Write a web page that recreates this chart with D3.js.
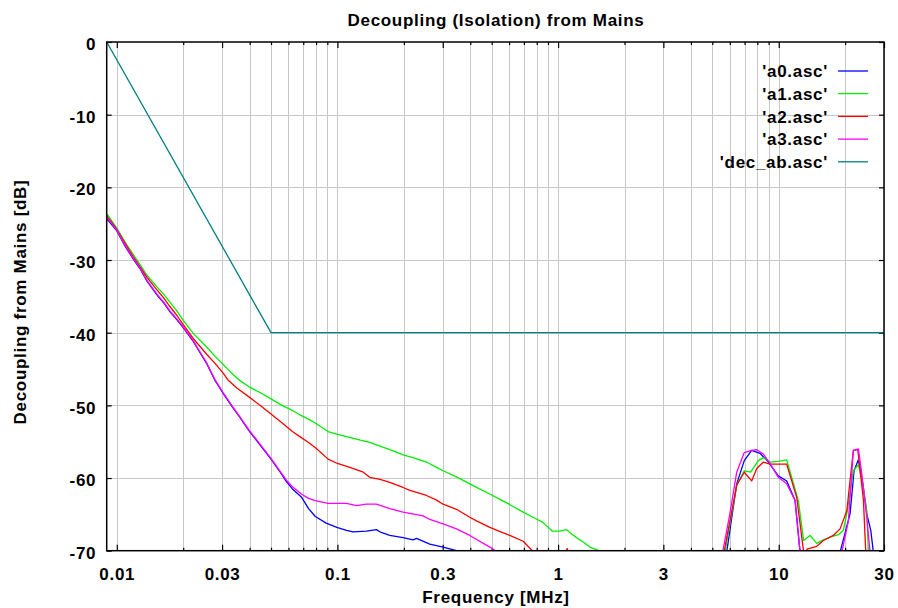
<!DOCTYPE html>
<html>
<head>
<meta charset="utf-8">
<script src="https://cdn.jsdelivr.net/npm/d3@7"></script>
<style>
  html, body { margin: 0; padding: 0; background: #fff; }
  svg text { font-family: "Liberation Sans", Arial, sans-serif; font-weight: bold; font-size: 17px; letter-spacing: 0.7px; fill: #000; }
</style>
</head>
<body>
<svg id="chart" width="898" height="608"></svg>
<script>
// ---- data ----
const xTickValues = [0.01, 0.03, 0.1, 0.3, 1, 3, 10, 30];
const xTickLabels = ["0.01", "0.03", "0.1", "0.3", "1", "3", "10", "30"];
const yTickValues = [0, -10, -20, -30, -40, -50, -60, -70];
const seriesNames = ["'a0.asc'", "'a1.asc'", "'a2.asc'", "'a3.asc'", "'dec_ab.asc'"];
const seriesColors = ["#0000ff", "#00ee00", "#ff0000", "#ff00ff", "#008080"];

// [frequency MHz, dB]
const a0 = [[0.009,-24.3],[0.01,-26.0],[0.011,-28.3],[0.0119,-29.9],[0.0128,-31.3],[0.0137,-32.9],[0.0152,-34.8],[0.0164,-36.0],[0.0174,-37.1],[0.0187,-38.2],[0.020,-39.3],[0.0222,-41.2],[0.024,-42.9],[0.0256,-44.3],[0.0279,-46.6],[0.0304,-48.4],[0.033,-50.0],[0.036,-51.6],[0.040,-53.6],[0.045,-55.6],[0.050,-57.4],[0.0545,-59.0],[0.0587,-60.5],[0.0625,-61.5],[0.0686,-62.6],[0.074,-64.2],[0.0794,-65.3],[0.0889,-66.2],[0.0994,-66.8],[0.11,-67.2],[0.1177,-67.4],[0.1353,-67.3],[0.1503,-67.1],[0.1556,-67.4],[0.1727,-67.9],[0.1984,-68.2],[0.2203,-68.5],[0.2282,-68.3],[0.2622,-69.1],[0.3012,-69.5],[0.3465,-70.0],[0.40,-71.2],[0.5,-72.5],[1,-74],[2,-76],[4,-76],[5.3,-74],[5.81,-70.2],[6.45,-60.8],[6.98,-57.6],[7.54,-56.2],[8.23,-56.6],[8.97,-57.8],[9.96,-59.7],[10.87,-60.4],[11.86,-63.1],[12.49,-70.2],[13.2,-75],[16,-77],[18.5,-74],[18.97,-70.2],[21.06,-64.9],[21.95,-59.0],[22.96,-57.5],[24.04,-60.8],[25.06,-64.9],[26.13,-67.2],[26.85,-70.2],[28,-74],[30,-76]];
const a1 = [[0.009,-23.6],[0.01,-25.6],[0.0111,-27.9],[0.0119,-29.3],[0.0128,-30.7],[0.0137,-32.1],[0.0152,-33.7],[0.0164,-34.8],[0.0174,-35.8],[0.0187,-37.0],[0.020,-38.3],[0.0222,-40.1],[0.0256,-42.0],[0.028,-43.3],[0.0304,-44.4],[0.033,-45.5],[0.0362,-46.6],[0.040,-47.5],[0.045,-48.3],[0.050,-49.1],[0.056,-50.0],[0.0625,-50.7],[0.0675,-51.3],[0.074,-51.9],[0.08,-52.5],[0.0907,-53.6],[0.1,-54.0],[0.1137,-54.4],[0.127,-54.8],[0.1402,-55.1],[0.156,-55.6],[0.1727,-56.1],[0.1984,-56.8],[0.22,-57.2],[0.2532,-57.8],[0.28,-58.5],[0.3012,-59.0],[0.35,-59.9],[0.398,-60.8],[0.44,-61.5],[0.4906,-62.2],[0.55,-63.0],[0.6,-63.6],[0.6946,-64.7],[0.77,-65.4],[0.853,-66.1],[0.94,-67.3],[1.019,-67.3],[1.093,-67.1],[1.15,-67.7],[1.213,-68.2],[1.3,-68.8],[1.394,-69.5],[1.558,-70.1],[1.7,-71.5],[2.5,-74],[4,-76],[5.3,-73],[5.705,-70.2],[6.45,-61.0],[6.98,-59.0],[7.46,-59.2],[8.08,-57.6],[8.52,-57.2],[9.13,-57.8],[9.96,-57.7],[10.87,-57.5],[12.27,-63.1],[12.97,-68.6],[13.87,-67.9],[14.87,-69.0],[15.93,-68.5],[17.2,-68.1],[18.63,-67.8],[19.63,-67.2],[20.35,-64.9],[21.79,-59.0],[22.96,-58.2],[24.19,-61.3],[25.06,-64.5],[25.49,-70.2],[26.5,-75],[30,-77]];
const a2 = [[0.009,-23.9],[0.01,-25.8],[0.0111,-28.1],[0.0119,-29.6],[0.0128,-31.0],[0.0137,-32.4],[0.0152,-34.1],[0.0164,-35.3],[0.0174,-36.4],[0.0187,-37.6],[0.020,-38.9],[0.0222,-40.8],[0.024,-42.0],[0.0256,-43.0],[0.028,-44.3],[0.0304,-45.6],[0.0319,-46.5],[0.035,-47.6],[0.040,-48.9],[0.045,-50.1],[0.050,-51.2],[0.056,-52.4],[0.0625,-53.6],[0.0675,-54.3],[0.074,-55.1],[0.08,-55.9],[0.0907,-57.4],[0.1,-58.0],[0.113,-58.5],[0.131,-59.2],[0.140,-59.9],[0.156,-60.2],[0.1727,-60.6],[0.1984,-61.3],[0.213,-61.7],[0.2532,-62.4],[0.28,-63.0],[0.3012,-63.6],[0.3465,-64.3],[0.398,-65.4],[0.427,-65.9],[0.4906,-66.8],[0.55,-67.4],[0.6045,-67.9],[0.6946,-68.7],[0.77,-70.1],[0.85,-71.5],[0.95,-72.5],[1.04,-71.2],[1.1,-69.7],[1.15,-71.2],[1.3,-74],[2.5,-76],[4,-76],[5.2,-73],[5.65,-70.2],[6.45,-61.0],[6.98,-59.2],[7.54,-60.4],[7.95,-58.7],[8.52,-57.8],[9.13,-58.1],[9.96,-58.1],[10.87,-58.1],[12.07,-62.7],[12.97,-70.2],[13.2,-71],[13.44,-69.8],[14.87,-69.4],[15.93,-68.6],[17.68,-67.9],[18.97,-67.0],[20.35,-64.5],[21.79,-56.2],[22.82,-56.1],[24.2,-63],[24.8,-70.2],[25.5,-75],[30,-77]];
const a3 = [[0.009,-24.1],[0.01,-25.9],[0.011,-28.2],[0.0119,-29.8],[0.0128,-31.2],[0.0137,-32.8],[0.0152,-34.7],[0.0164,-35.9],[0.0174,-37.0],[0.0187,-38.1],[0.020,-39.2],[0.0222,-41.1],[0.024,-42.8],[0.0256,-44.2],[0.0279,-46.5],[0.0304,-48.3],[0.033,-49.9],[0.036,-51.5],[0.040,-53.5],[0.045,-55.5],[0.050,-57.3],[0.0545,-58.9],[0.0587,-60.3],[0.0625,-61.2],[0.0686,-62.2],[0.074,-62.8],[0.0794,-63.1],[0.0907,-63.5],[0.1,-63.5],[0.11,-63.5],[0.122,-63.8],[0.135,-63.6],[0.1503,-63.6],[0.1727,-64.2],[0.1984,-64.7],[0.2444,-65.2],[0.2622,-65.7],[0.3012,-66.3],[0.3465,-67.0],[0.398,-67.9],[0.4906,-69.5],[0.545,-70.4],[0.6,-71.5],[1,-74],[2,-76],[4,-76],[5.2,-73],[5.57,-70.2],[6.0,-65.0],[6.45,-59.2],[6.98,-56.5],[7.54,-56.2],[7.95,-56.1],[8.52,-56.7],[9.13,-58.0],[9.96,-59.9],[10.87,-60.8],[11.86,-63.1],[12.49,-70.0],[13.2,-75],[16,-77],[18.8,-73],[19.31,-70.2],[20.69,-65.9],[21.79,-56.2],[22.96,-56.0],[23.79,-59.4],[25.06,-65.4],[25.94,-70.2],[27,-74],[30,-76]];
const decAb = [[0.009,0],[0.05,-40],[30,-40]];

// ---- layout ----
const W = 898, H = 608;
const m = { left: 106.7, right: 14, top: 42, bottom: 57.3 };
const svg = d3.select("#chart");

const x = d3.scaleLog().domain([0.009, 30]).range([m.left, W - m.right]);
const y = d3.scaleLinear().domain([-70, 0]).range([H - m.bottom, m.top]);

const minorX = x.ticks().filter(v => v >= 0.0099 && !xTickValues.some(t => Math.abs(t - v) / t < 1e-6));
const gridX = x.ticks().filter(v => v >= 0.0099);

// grid
const grid = svg.append("g").attr("stroke", "#c8c8c8").attr("stroke-width", 1);
grid.selectAll("line.v").data(gridX).join("line")
  .attr("x1", d => Math.round(x(d)) + 0.5).attr("x2", d => Math.round(x(d)) + 0.5)
  .attr("y1", y(0)).attr("y2", y(-70));
grid.selectAll("line.h").data(yTickValues.filter(v => v !== 0 && v !== -70)).join("line")
  .attr("x1", x(0.009)).attr("x2", x(30))
  .attr("y1", d => Math.round(y(d)) + 0.5).attr("y2", d => Math.round(y(d)) + 0.5);

// axes ticks
const fmt = d => xTickLabels[xTickValues.indexOf(d)];
const gB = svg.append("g").attr("transform", `translate(0,${y(-70)})`)
  .call(d3.axisBottom(x).tickValues(xTickValues).tickFormat(fmt).tickSize(-6).tickSizeOuter(0).tickPadding(17.5));
const gBm = svg.append("g").attr("transform", `translate(0,${y(-70)})`)
  .call(d3.axisBottom(x).tickValues(minorX).tickFormat("").tickSize(-3).tickSizeOuter(0));
const gT = svg.append("g").attr("transform", `translate(0,${y(0)})`)
  .call(d3.axisTop(x).tickValues(xTickValues).tickFormat("").tickSize(-6).tickSizeOuter(0));
const gTm = svg.append("g").attr("transform", `translate(0,${y(0)})`)
  .call(d3.axisTop(x).tickValues(minorX).tickFormat("").tickSize(-3).tickSizeOuter(0));
const gL = svg.append("g").attr("transform", `translate(${x(0.009)},0)`)
  .call(d3.axisLeft(y).tickValues(yTickValues).tickFormat(d3.format("d")).tickSize(-5).tickSizeOuter(0).tickPadding(10.5));
const gR = svg.append("g").attr("transform", `translate(${x(30)},0)`)
  .call(d3.axisRight(y).tickValues(yTickValues).tickFormat("").tickSize(-5).tickSizeOuter(0));
[gB, gBm, gT, gTm, gL, gR].forEach(g => {
  g.select(".domain").remove();
  g.selectAll(".tick line").attr("stroke", "#000").attr("stroke-width", 1.2);
  g.selectAll("text").attr("font-family", null).attr("font-size", null).attr("fill", "#000");
});
gL.selectAll("text").attr("dy", "0.45em").text(d => d === 0 ? "0" : d3.format("d")(d).replace("−", "-"));

// clip
svg.append("clipPath").attr("id", "plotclip").append("rect")
  .attr("x", x(0.009)).attr("y", y(0)).attr("width", x(30) - x(0.009)).attr("height", y(-70) - y(0));

const line = d3.line().x(d => x(d[0])).y(d => y(d[1]));
const allSeries = [a0, a1, a2, a3, decAb];
const plot = svg.append("g").attr("clip-path", "url(#plotclip)");
plot.selectAll("path").data(allSeries).join("path")
  .attr("d", line).attr("fill", "none")
  .attr("stroke", (d, i) => seriesColors[i]).attr("stroke-width", 1.3)
  .attr("stroke-linejoin", "round");

// frame
svg.append("rect").attr("x", x(0.009)).attr("y", y(0))
  .attr("width", x(30) - x(0.009)).attr("height", y(-70) - y(0))
  .attr("fill", "none").attr("stroke", "#000").attr("stroke-width", 1.5);

// legend
const legendY = [71, 93.6, 116.4, 139.1, 161.8];
const lg = svg.append("g");
seriesNames.forEach((name, i) => {
  lg.append("text").attr("x", 828).attr("y", legendY[i] + 6.2).attr("text-anchor", "end").text(name);
  lg.append("line").attr("x1", 838).attr("x2", 868).attr("y1", legendY[i]).attr("y2", legendY[i])
    .attr("stroke", seriesColors[i]).attr("stroke-width", 1.3);
});

// titles
svg.append("text").attr("x", 496).attr("y", 26).attr("text-anchor", "middle").text("Decoupling (Isolation) from Mains");
svg.append("text").attr("x", 496).attr("y", 603).attr("text-anchor", "middle").text("Frequency [MHz]");
svg.append("text").attr("transform", "translate(26,302) rotate(-90)").attr("text-anchor", "middle").text("Decoupling from Mains [dB]");
</script>
</body>
</html>
